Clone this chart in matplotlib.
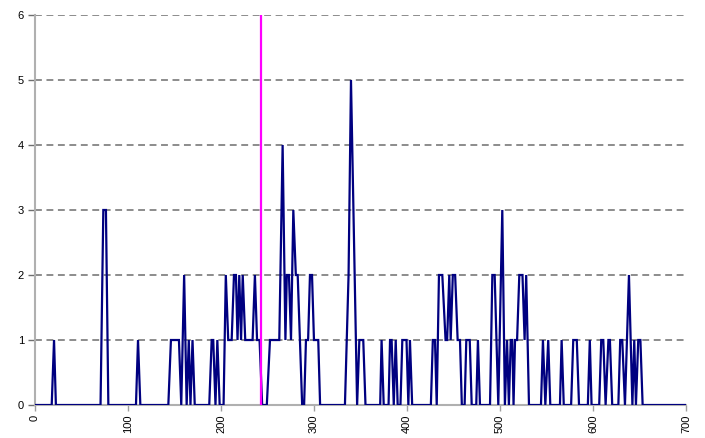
"""Step-like count series with a marker line, Excel-style look."""

import matplotlib
matplotlib.use("Agg")
import matplotlib.pyplot as plt

plt.rcParams["font.family"] = ["Liberation Sans", "DejaVu Sans"]

# breakpoints
x_pts = [0, 18, 20.5, 22.5,
         70.5, 73.5, 76.3, 78.9,
         108.6, 110.8, 113.3,
         143.4, 146.2, 154.8, 157.3, 160.4, 163.1, 165.4, 167.2, 169.4, 171.8,
         187.4, 190, 191.7, 194.1, 196.1, 198.6,
         202.8, 205.2, 207.8, 211.5, 214, 216.1, 217.8, 219.7, 221.6, 223.4, 226.1,
         234, 236.5, 238.8, 241.5, 244.3, 249.3, 252.7, 262.7,
         266.3, 269.3, 270.8, 273.1, 275.3, 277.8, 280.5, 282.5, 287.3, 289.4,
         291.4, 293.7, 295.7, 297.9, 300, 304.6, 306.6, 333.3, 337.2, 339.8,
         346.4, 348.8, 353, 355.4,
         371.2, 372.7, 375, 380.2, 381.8, 383.5, 385.8, 387.9, 390, 393, 395,
         399.5, 401.5, 403.2, 405.6,
         425.7, 427.8, 430.1, 432, 434.4, 438, 441.5, 443.2, 445.5, 447, 449.3,
         451.8, 454.5, 457, 459, 462, 463.8, 467.5, 469.6, 474.5, 476.3, 478.5,
         489.3, 491.8, 494.3, 498.2, 502.5, 505.3, 507.6, 509.6, 511.6, 513.2,
         514.6, 516.2, 518.4, 520.8, 524.2, 526.5, 528.2, 531.2,
         544.1, 546.2, 548.8, 551.9, 554.1, 564.5, 566.3, 568.6, 576.5, 578.8,
         582.6, 585, 594.5, 596.6, 598.5, 606.7, 608.9, 611.1, 613.6, 616.6,
         618.2, 620.7, 627.3, 629.3, 631.5, 634.4, 638.7, 642.4, 644.4, 646.2,
         648.7, 651, 653.4, 700]
y_pts = [0, 0, 1, 0,
         0, 3, 3, 0,
         0, 1, 0,
         0, 1, 1, 0, 2, 0, 1, 0, 1, 0,
         0, 1, 1, 0, 1, 0,
         0, 2, 1, 1, 2, 2, 1, 2, 1, 2, 1,
         1, 2, 1, 1, 0, 0, 1, 1,
         4, 1, 2, 2, 1, 3, 2, 2, 0, 0,
         1, 1, 2, 2, 1, 1, 0, 0, 2, 5,
         0, 1, 1, 0,
         0, 1, 0, 0, 1, 1, 0, 1, 0, 0, 1,
         1, 0, 1, 0,
         0, 1, 1, 0, 2, 2, 1, 1, 2, 1, 2,
         2, 1, 1, 0, 0, 1, 1, 0, 0, 1, 0,
         0, 2, 2, 0, 3, 0, 1, 0, 1, 1,
         0, 1, 1, 2, 2, 1, 2, 0,
         0, 1, 0, 1, 0, 0, 1, 0, 0, 1,
         1, 0, 0, 1, 0, 0, 1, 1, 0, 1,
         1, 0, 0, 1, 1, 0, 2, 0, 1, 0,
         1, 1, 0, 0]

marker_x = 243
x_ticks = [0, 100, 200, 300, 400, 500, 600, 700]
y_ticks = [0, 1, 2, 3, 4, 5, 6]

fig = plt.figure(figsize=(7.05, 4.38), dpi=100)
ax = fig.add_axes([0.0496, 0.0753, 0.9234, 0.8905])

for yv in y_ticks[1:]:
    ax.axhline(yv, color="#6e6e6e", linewidth=1.1, dashes=(4.5, 3), zorder=1)

ax.plot(x_pts, y_pts, color="#000080", linewidth=1.6,
        solid_joinstyle="miter", zorder=3)
ax.axvline(marker_x, color="#ff00ff", linewidth=1.6, zorder=4)

ax.set_xlim(0, 700)
ax.set_ylim(0, 6)
ax.set_xticks(x_ticks)
ax.set_yticks(y_ticks)
ax.set_xticklabels([str(v) for v in x_ticks], rotation=90, fontsize=8)
ax.set_yticklabels([str(v) for v in y_ticks], fontsize=8)
ax.tick_params(axis="x", length=4, width=1, color="#a0a0a0", pad=3)
ax.tick_params(axis="y", length=5, width=1, color="#6e6e6e", pad=3)

for side in ("top", "right"):
    ax.spines[side].set_visible(False)
for side in ("left", "bottom"):
    ax.spines[side].set_color("#b0b0b0")
    ax.spines[side].set_linewidth(1.5)

fig.savefig("out.png", dpi=100)
